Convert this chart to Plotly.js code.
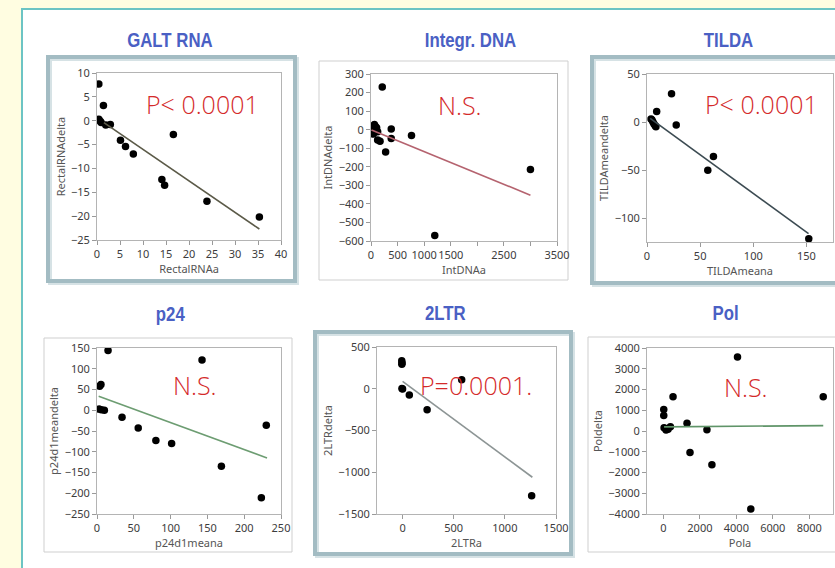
<!DOCTYPE html>
<html>
<head>
<meta charset="utf-8">
<script src="https://cdn.plot.ly/plotly-3.0.1.min.js"></script>
<style>html,body{margin:0;padding:0;background:#fffde1;}#chart{width:835px;height:568px;}</style>
</head>
<body>
<div id="chart"></div>
<script>
// ---------- data ----------
var panelTitles = ["GALT RNA", "Integr. DNA", "TILDA", "p24", "2LTR", "Pol"];
var pLabels = ["P< 0.0001", "N.S.", "P< 0.0001", "N.S.", "P=0.0001.", "N.S."];
var xTitles = ["RectalRNAa", "IntDNAa", "TILDAmeana", "p24d1meana", "2LTRa", "Pola"];
var yTitles = ["RectalRNAdelta", "IntDNAdelta", "TILDAmeandelta", "p24d1meandelta", "2LTRdelta", "Poldelta"];

var galtX = [0.4, 1.4, 0.4, 0.7, 0.9, 1.9, 2.9, 5.1, 6.2, 7.9, 16.6, 14.1, 14.7, 23.9, 35.3];
var galtY = [7.7, 3.2, 0.3, -0.1, -0.4, -0.9, -0.8, -4.1, -5.4, -7.0, -2.9, -12.3, -13.5, -16.9, -20.2];
var galtFitX = [1.5, 35.3];
var galtFitY = [-0.4, -22.7];

var intX = [212, 63, 81, 106, 44, 125, 94, 30, 125, 170, 275, 381, 381, 762, 1200, 3000];
var intY = [230, 28, 19, 10, -24, -11, 3, 15, -56, -62, -120, 3, -47, -31, -570, -215];
var intFitX = [10, 3000];
var intFitY = [-2, -353];
var intTickVals = [0, 500, 1000, 1500, 2000, 2500, 3000, 3500];
var intTickText = ["0", "500", "1000", "1500", "", "2500", "", "3500"];

var tildaX = [23.1, 9.1, 3.8, 4.7, 5.6, 6.6, 7.8, 8.4, 27.5, 62.5, 57.2, 152.2];
var tildaY = [29.5, 11, 3, 2, 0, -2, -4, -5, -3.2, -36, -50.3, -121.6];
var tildaFitX = [3, 152];
var tildaFitY = [3.7, -116.3];

var p24X = [15, 5.4, 3.6, 2.7, 5.9, 10, 34, 56, 80, 101.4, 142.7, 169, 223.3, 230];
var p24Y = [144, 62, 58, 3, 1, 0, -17, -43, -73, -80, 121, -135, -211, -36];
var p24FitX = [2.3, 231];
var p24FitY = [33.5, -115];

var ltrX = [-8, -5, -7, -6, 0, 66, 240, 578, 1262];
var ltrY = [336, 308, 292, 4, -2, -76, -252, 108, -1280];
var ltrFitX = [0, 1269];
var ltrFitY = [88, -1060];

var polX = [18, 18, 36, 146, 255, 383, 528, 1294, 1458, 2387, 2660, 4063, 4792, 8765];
var polY = [1040, 752, 160, 48, 80, 208, 1648, 368, -1040, 64, -1632, 3568, -3760, 1648];
var polFitX = [36, 8765];
var polFitY = [200, 260];

// ---------- layout helpers ----------
var W = 835, H = 568;
function PX(p) { return p / W; }
function PY(p) { return 1 - p / H; }

var seriesX = [galtX, intX, tildaX, p24X, ltrX, polX];
var seriesY = [galtY, intY, tildaY, p24Y, ltrY, polY];
var fitXs = [galtFitX, intFitX, tildaFitX, p24FitX, ltrFitX, polFitX];
var fitYs = [galtFitY, intFitY, tildaFitY, p24FitY, ltrFitY, polFitY];
var fitColors = ["#5b5a48", "#b5636f", "#3c4b52", "#6d9d72", "#8d9595", "#5f9468"];

// plot-area boxes in pixels [left, right, top, bottom]
var boxes = [
  [97, 281, 73, 240],
  [371, 557, 74, 241],
  [647, 833, 74, 242],
  [97, 281, 348, 514],
  [377, 556, 347, 514],
  [647, 833, 348, 514]
];
var xRanges = [[0, 40], [0, 3500], [0, 175], [0, 250], [-250, 1500], [-900, 9300]];
var yRanges = [[-25, 10], [-600, 300], [-125, 50], [-250, 150], [-1500, 500], [-4000, 4000]];
var xDt = [5, 500, 50, 50, 500, 2000];
var yDt = [5, 100, 50, 50, 500, 1000];

var tickFont = {family: "Noto Sans, Open Sans, sans-serif", size: 11, color: "#3c3c3c"};
var titleFont = {family: "Noto Sans, Open Sans, sans-serif", size: 11, color: "#555555"};

var data = [];
var layout = {
  width: W, height: H,
  margin: {l: 0, r: 0, t: 0, b: 0},
  paper_bgcolor: "#fffde1",
  plot_bgcolor: "rgba(0,0,0,0)",
  showlegend: false,
  shapes: [],
  annotations: []
};

for (var i = 0; i < 6; i++) {
  var sx = i === 0 ? "" : String(i + 1);
  data.push({
    x: seriesX[i], y: seriesY[i], type: "scatter", mode: "markers",
    xaxis: "x" + sx, yaxis: "y" + sx,
    marker: {color: "#000000", size: 7.5}, hoverinfo: "skip"
  });
  data.push({
    x: fitXs[i], y: fitYs[i], type: "scatter", mode: "lines",
    xaxis: "x" + sx, yaxis: "y" + sx,
    line: {color: fitColors[i], width: 1.6}, hoverinfo: "skip"
  });
  var b = boxes[i];
  var xa = {
    domain: [PX(b[0]), PX(b[1])], range: xRanges[i], anchor: "y" + sx,
    showgrid: false, zeroline: false, showline: true, mirror: true,
    linecolor: "#b4b4b4", linewidth: 1, ticks: "outside", ticklen: 4, tickcolor: "#9a9a9a",
    dtick: xDt[i], tick0: 0, tickangle: 0, tickfont: tickFont, automargin: false,
    title: {text: xTitles[i], font: titleFont, standoff: 2}
  };
  if (i === 1) {
    xa.tickmode = "array";
    xa.tickvals = intTickVals;
    xa.ticktext = intTickText;
  }
  var ya = {
    domain: [PY(b[3]), PY(b[2])], range: yRanges[i], anchor: "x" + sx,
    showgrid: false, zeroline: false, showline: true, mirror: true,
    linecolor: "#b4b4b4", linewidth: 1, ticks: "outside", ticklen: 4, tickcolor: "#9a9a9a",
    dtick: yDt[i], tick0: 0, tickfont: tickFont, automargin: false,
    title: {text: yTitles[i], font: titleFont, standoff: 3}
  };
  layout["xaxis" + sx] = xa;
  layout["yaxis" + sx] = ya;
}

// outer white sheet
layout.shapes.push({type: "rect", xref: "paper", yref: "paper", layer: "below",
  x0: PX(22), x1: PX(860), y0: PY(9), y1: PY(600),
  fillcolor: "#ffffff", line: {color: "#6cc4c4", width: 2}});

// panel frames [x0, x1, y0, y1, thick]
var frames = [
  [48, 295, 57, 281, 1],
  [319, 568, 61, 280, 0],
  [592, 860, 57, 283, 1],
  [44, 292, 338, 552, 0],
  [315, 571, 332, 554, 1],
  [588, 860, 337, 552, 0]
];
for (var k = 0; k < frames.length; k++) {
  var f = frames[k];
  if (f[4]) {
    layout.shapes.push({type: "rect", xref: "paper", yref: "paper", layer: "below",
      x0: PX(f[0] + 2), x1: PX(f[1] + 2), y0: PY(f[2] + 2), y1: PY(f[3] + 2),
      fillcolor: "rgba(0,0,0,0)", line: {color: "#d6e2e5", width: 4}});
    layout.shapes.push({type: "rect", xref: "paper", yref: "paper", layer: "below",
      x0: PX(f[0]), x1: PX(f[1]), y0: PY(f[2]), y1: PY(f[3]),
      fillcolor: "rgba(0,0,0,0)", line: {color: "#a3bcc3", width: 4}});
  } else {
    layout.shapes.push({type: "rect", xref: "paper", yref: "paper", layer: "below",
      x0: PX(f[0]), x1: PX(f[1]), y0: PY(f[2]), y1: PY(f[3]),
      fillcolor: "rgba(0,0,0,0)", line: {color: "#cfcfcf", width: 1}});
  }
}

// panel titles
var titlePos = [[170, 40], [470, 40], [728, 40], [170, 314], [445, 313], [725, 313]];
for (var t = 0; t < 6; t++) {
  layout.annotations.push({xref: "paper", yref: "paper", x: PX(titlePos[t][0]), y: PY(titlePos[t][1]),
    xanchor: "center", yanchor: "middle", showarrow: false, text: "<b>" + panelTitles[t] + "</b>",
    font: {family: "Liberation Sans, Arial, sans-serif", size: 20, color: "#4a60c4"}});
}
// p-value labels
var pPos = [[202, 104], [460, 105], [761, 104], [195, 385], [476, 385], [746, 387]];
for (var q = 0; q < 6; q++) {
  layout.annotations.push({xref: "paper", yref: "paper", x: PX(pPos[q][0]), y: PY(pPos[q][1]),
    xanchor: "center", yanchor: "middle", showarrow: false, text: pLabels[q],
    font: {family: "Open Sans, Noto Sans, sans-serif", size: 25, color: "#d42a2a", weight: 300}});
}

Plotly.newPlot("chart", data, layout, {staticPlot: true}).then(function () {
  // the original headings use a narrow bold face: squeeze them horizontally about their centre
  var texts = document.querySelectorAll(".annotation-text");
  texts.forEach(function (el) {
    if (panelTitles.indexOf(el.textContent) >= 0) {
      var bb = el.getBBox();
      var cx = bb.x + bb.width / 2;
      var prev = el.getAttribute("transform") || "";
      el.setAttribute("transform", prev + " translate(" + cx + ",0) scale(0.84,1) translate(" + (-cx) + ",0)");
    }
  });
});
</script>
</body>
</html>
